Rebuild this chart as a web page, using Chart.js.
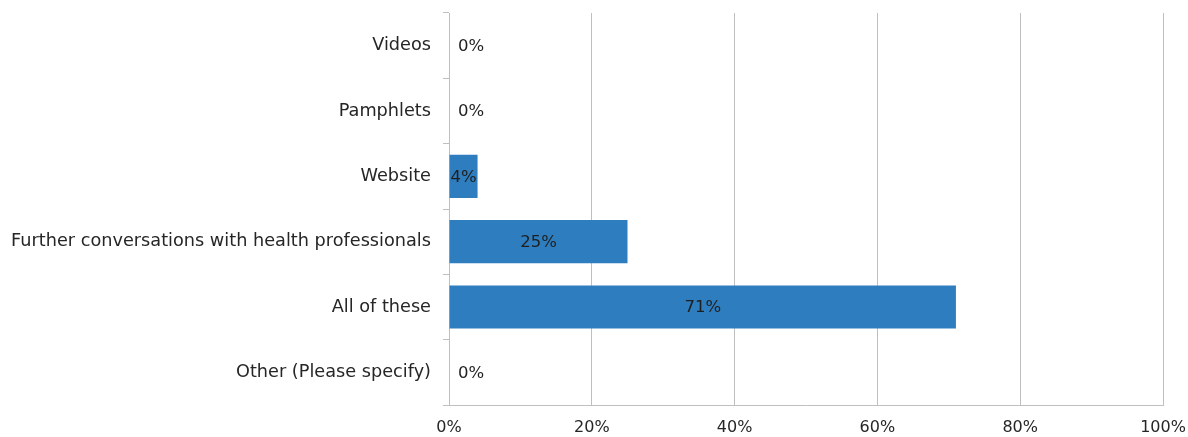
<!DOCTYPE html>
<html>
<head>
<meta charset="utf-8">
<script src="https://cdn.jsdelivr.net/npm/chart.js@4"></script>
<style>
  html, body { margin: 0; padding: 0; background: #ffffff; }
  #wrap { width: 1188px; height: 437px; }
</style>
</head>
<body>
<div id="wrap"><canvas id="myChart"></canvas></div>
<script>
const categories = ['Videos', 'Pamphlets', 'Website', 'Further conversations with health professionals', 'All of these', 'Other (Please specify)'];
const values = [0, 0, 4, 25, 71, 0];
const xTicks = [0, 20, 40, 60, 80, 100];

const fontFamily = '"DejaVu Sans", sans-serif';

// draws the percent labels on / next to the bars
const valueLabels = {
	id: 'valueLabels',
	afterDatasetsDraw(chart) {
		const ctx = chart.ctx;
		const meta = chart.getDatasetMeta(0);
		ctx.save();
		ctx.font = '16.5px ' + fontFamily;
		ctx.fillStyle = '#1f1f1f';
		ctx.textBaseline = 'middle';
		meta.data.forEach((bar, i) => {
			const v = values[i];
			const text = v + '%';
			if (v === 0) {
				ctx.textAlign = 'left';
				ctx.fillText(text, bar.x + 9, bar.y + 1);
			} else {
				ctx.textAlign = 'center';
				ctx.fillText(text, (bar.x + bar.base) / 2, bar.y + 1);
			}
		});
		ctx.restore();
	}
};

// no automatic label padding, layout padding decides the plot edges
function noPad(scale) {
	scale.paddingTop = 0;
	scale.paddingBottom = 0;
	scale.paddingLeft = 0;
	scale.paddingRight = 0;
}

const ctx = document.getElementById('myChart').getContext('2d');
const myChart = new Chart(ctx, {
	type: 'bar',
	data: {
		labels: categories,
		datasets: [{
			data: values,
			backgroundColor: '#2e7ebf',
			borderWidth: 0,
			categoryPercentage: 1,
			barPercentage: 0.66
		}]
	},
	options: {
		indexAxis: 'y',
		responsive: true,
		maintainAspectRatio: false,
		animation: false,
		layout: {
			padding: { top: 13, right: 25, left: 0, bottom: 0 }
		},
		plugins: {
			legend: { display: false },
			tooltip: { enabled: false }
		},
		scales: {
			x: {
				min: 0,
				max: 100,
				afterBuildTicks: scale => {
					scale.ticks = xTicks.map(v => ({ value: v }));
				},
				afterFit: scale => { scale.height = 32; noPad(scale); },
				ticks: {
					callback: v => v + '%',
					color: '#262626',
					font: { family: fontFamily, size: 16 },
					padding: 13
				},
				grid: {
					color: '#bfbfbf',
					lineWidth: 1,
					drawTicks: false
				},
				border: { color: '#bfbfbf' }
			},
			y: {
				afterFit: scale => { scale.width = 449; noPad(scale); },
				ticks: {
					color: '#262626',
					font: { family: fontFamily, size: 17.7 },
					padding: 12
				},
				grid: {
					offset: true,
					drawOnChartArea: false,
					drawTicks: true,
					tickLength: 6,
					color: '#bfbfbf'
				},
				border: { color: '#bfbfbf' }
			}
		}
	},
	plugins: [valueLabels]
});
</script>
</body>
</html>
